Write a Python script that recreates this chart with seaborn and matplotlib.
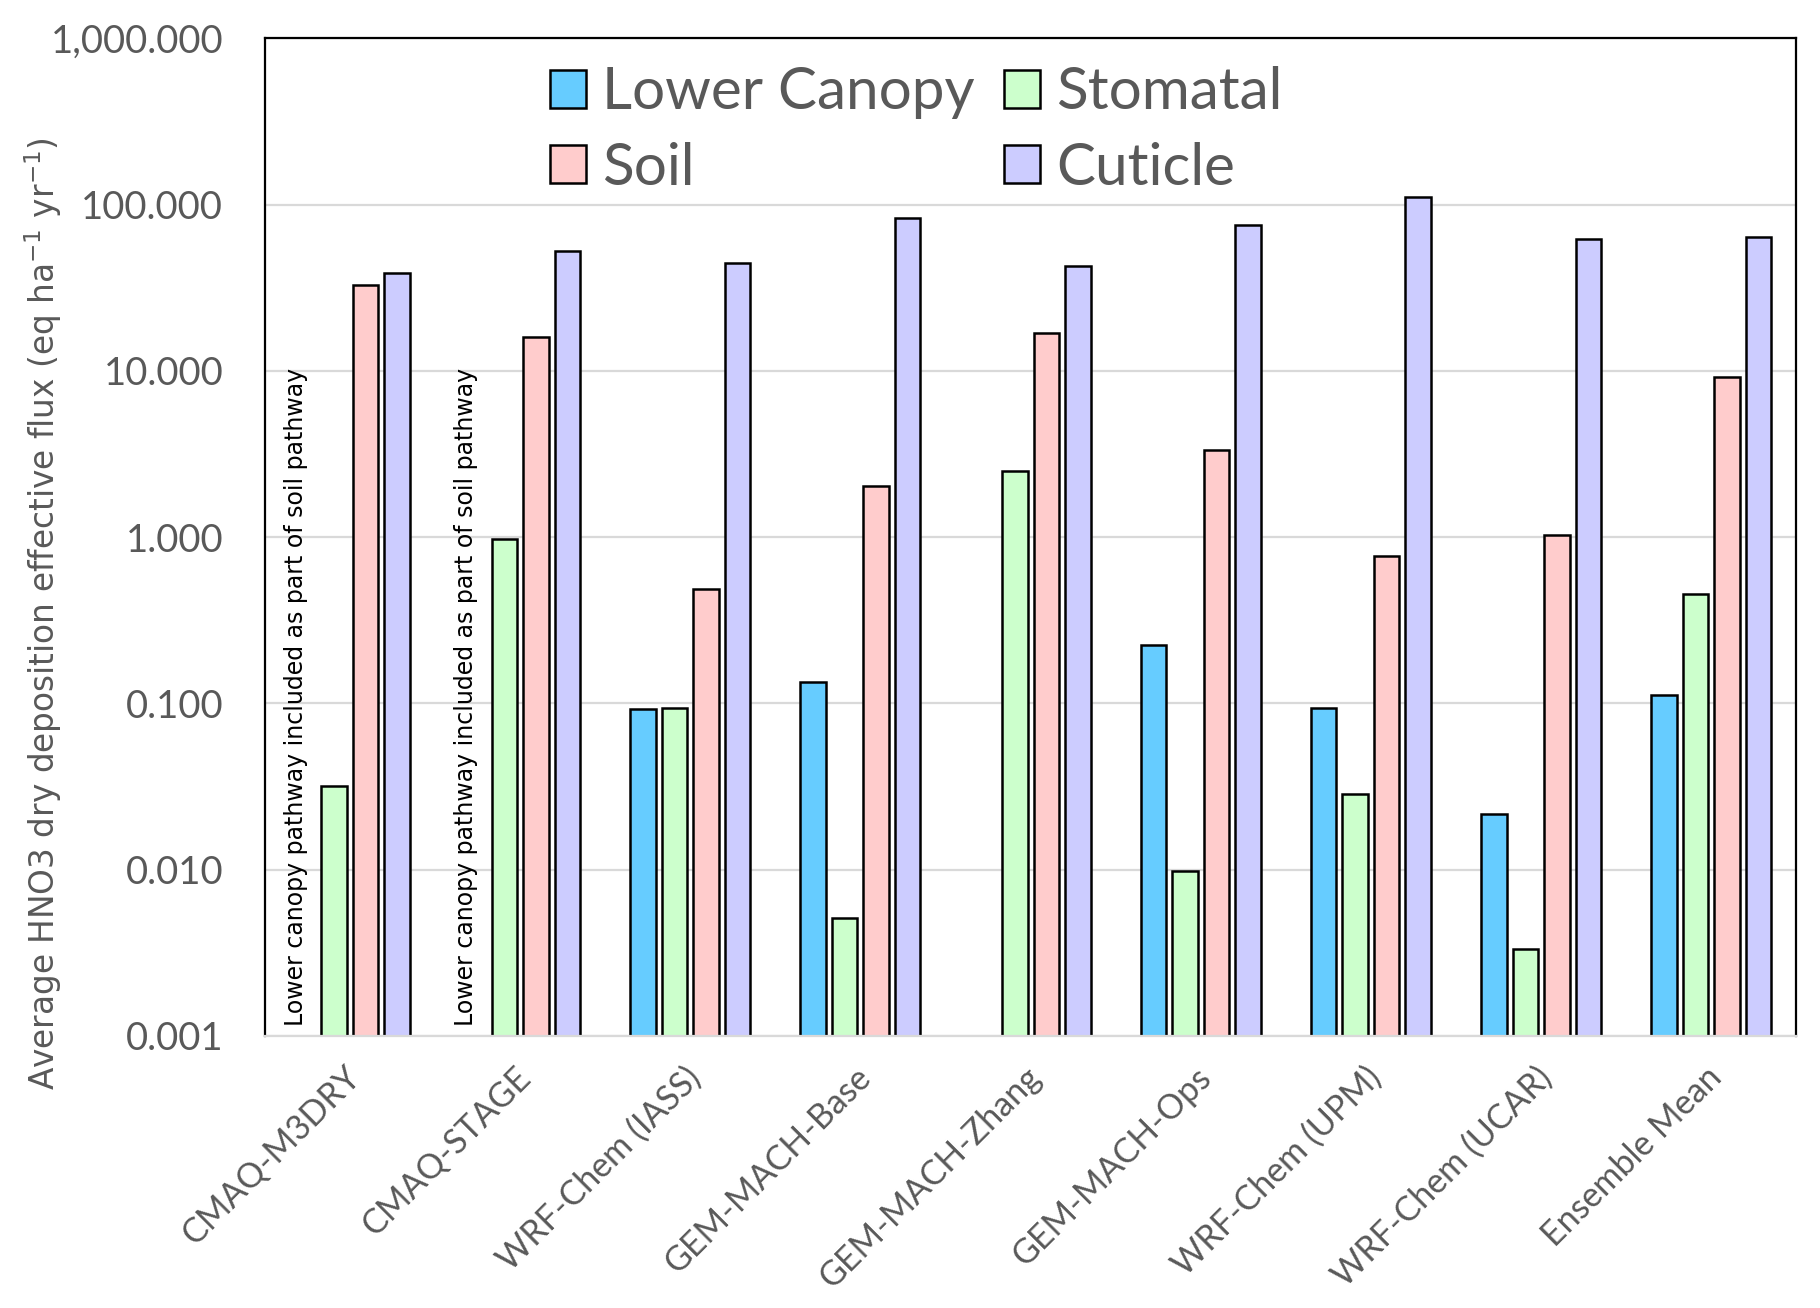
import numpy as np
import pandas as pd
import matplotlib
matplotlib.use("Agg")
import matplotlib.pyplot as plt
import matplotlib.transforms as mtransforms
import seaborn as sns
from matplotlib.ticker import FuncFormatter, FixedLocator, NullLocator
from matplotlib.patches import Patch

# ---------------- data ----------------
models = ["CMAQ-M3DRY", "CMAQ-STAGE", "WRF-Chem (IASS)", "GEM-MACH-Base",
          "GEM-MACH-Zhang", "GEM-MACH-Ops", "WRF-Chem (UPM)", "WRF-Chem (UCAR)",
          "Ensemble Mean"]
pathways = ["Lower Canopy", "Stomatal", "Soil", "Cuticle"]
lower_canopy = [np.nan, np.nan, 0.093, 0.134, np.nan, 0.224, 0.094, 0.0215, 0.112]
stomatal = [0.032, 0.97, 0.094, 0.00515, 2.5, 0.0098, 0.0287, 0.00334, 0.455]
soil = [32.7, 16.1, 0.486, 2.03, 16.9, 3.34, 0.773, 1.03, 9.2]
cuticle = [39.0, 52.9, 44.3, 83.0, 42.9, 75.0, 111.0, 62.0, 64.0]
ytick_values = [0.001, 0.01, 0.1, 1, 10, 100, 1000]
note_text = "Lower canopy pathway included as part of soil pathway"
note_models = ["CMAQ-M3DRY", "CMAQ-STAGE"]
ylabel = r"Average HNO3 dry deposition effective flux (eq ha$^{-1}$ yr$^{-1}$)"

colors = {"Lower Canopy": "#66CCFF", "Stomatal": "#CCFFCC",
          "Soil": "#FFCCCC", "Cuticle": "#CCCCFF"}

series = {"Lower Canopy": lower_canopy, "Stomatal": stomatal,
          "Soil": soil, "Cuticle": cuticle}
df = pd.DataFrame([(m, p, v) for p, vals in series.items() for m, v in zip(models, vals)],
                  columns=["model", "pathway", "flux"])

# ---------------- plot ----------------
sns.set_theme(style="white")
plt.rcParams["font.family"] = ["Lato", "DejaVu Sans"]
gray = "#595959"

fig = plt.figure(figsize=(18.2, 13.08), dpi=100)
ax = fig.add_axes([0.1455, 0.208, 0.8415, 0.7626])
ax.set_yscale("log")

width = 0.74
sns.barplot(data=df, x="model", y="flux", hue="pathway", order=models,
            hue_order=pathways, palette=colors, width=width, gap=0.19,
            edgecolor="black", linewidth=1.8, saturation=1, errorbar=None,
            legend=False, ax=ax)

ax.set_ylim(0.001, 1000)
ax.set_xlim(-0.5, len(models) - 0.5)
ax.yaxis.set_major_locator(FixedLocator(ytick_values))
ax.yaxis.set_minor_locator(NullLocator())
ax.yaxis.set_major_formatter(FuncFormatter(lambda v, p: f"{v:,.3f}"))
ax.grid(axis="y", color="#D9D9D9", linewidth=1.6)
ax.set_axisbelow(True)

for side in ["left", "top", "right"]:
    ax.spines[side].set_color("black")
    ax.spines[side].set_linewidth(1.6)
ax.spines["bottom"].set_color("#D9D9D9")
ax.spines["bottom"].set_linewidth(1.6)

ax.tick_params(axis="both", length=0, colors=gray)
ax.tick_params(axis="y", labelsize=27.5, pad=30)
ax.tick_params(axis="x", labelsize=24.5, pad=18)
shift = mtransforms.ScaledTranslation(-6 / 100, 0, fig.dpi_scale_trans)
for lab in ax.get_xticklabels():
    lab.set_rotation(45)
    lab.set_ha("right")
    lab.set_rotation_mode("anchor")
    lab.set_transform(lab.get_transform() + shift)

ax.set_xlabel("")
ax.set_ylabel(ylabel, fontsize=23.6, color=gray, family=["DejaVu Sans"])
ax.yaxis.set_label_coords(-0.131, 0.423)

# notes in the lower-canopy slot
slot = width / len(pathways)
for m in note_models:
    xi = models.index(m) - 1.5 * slot - 0.04
    ax.text(xi, 0.00115, note_text, rotation=90, ha="center", va="bottom",
            fontsize=17, color="black", family=["DejaVu Sans"])

# legend
order = ["Lower Canopy", "Soil", "Stomatal", "Cuticle"]
handles = [Patch(facecolor=colors[p], edgecolor="black", linewidth=1.8, label=p) for p in order]
ax.legend(handles=handles, ncol=2, loc="upper left", bbox_to_anchor=(0.186, 0.972),
          frameon=False, fontsize=42, labelcolor=gray, handlelength=0.62,
          handleheight=0.62, handletextpad=0.28, columnspacing=0.5,
          labelspacing=0.38, borderpad=0, borderaxespad=0)

fig.savefig("out.png", dpi=100)
